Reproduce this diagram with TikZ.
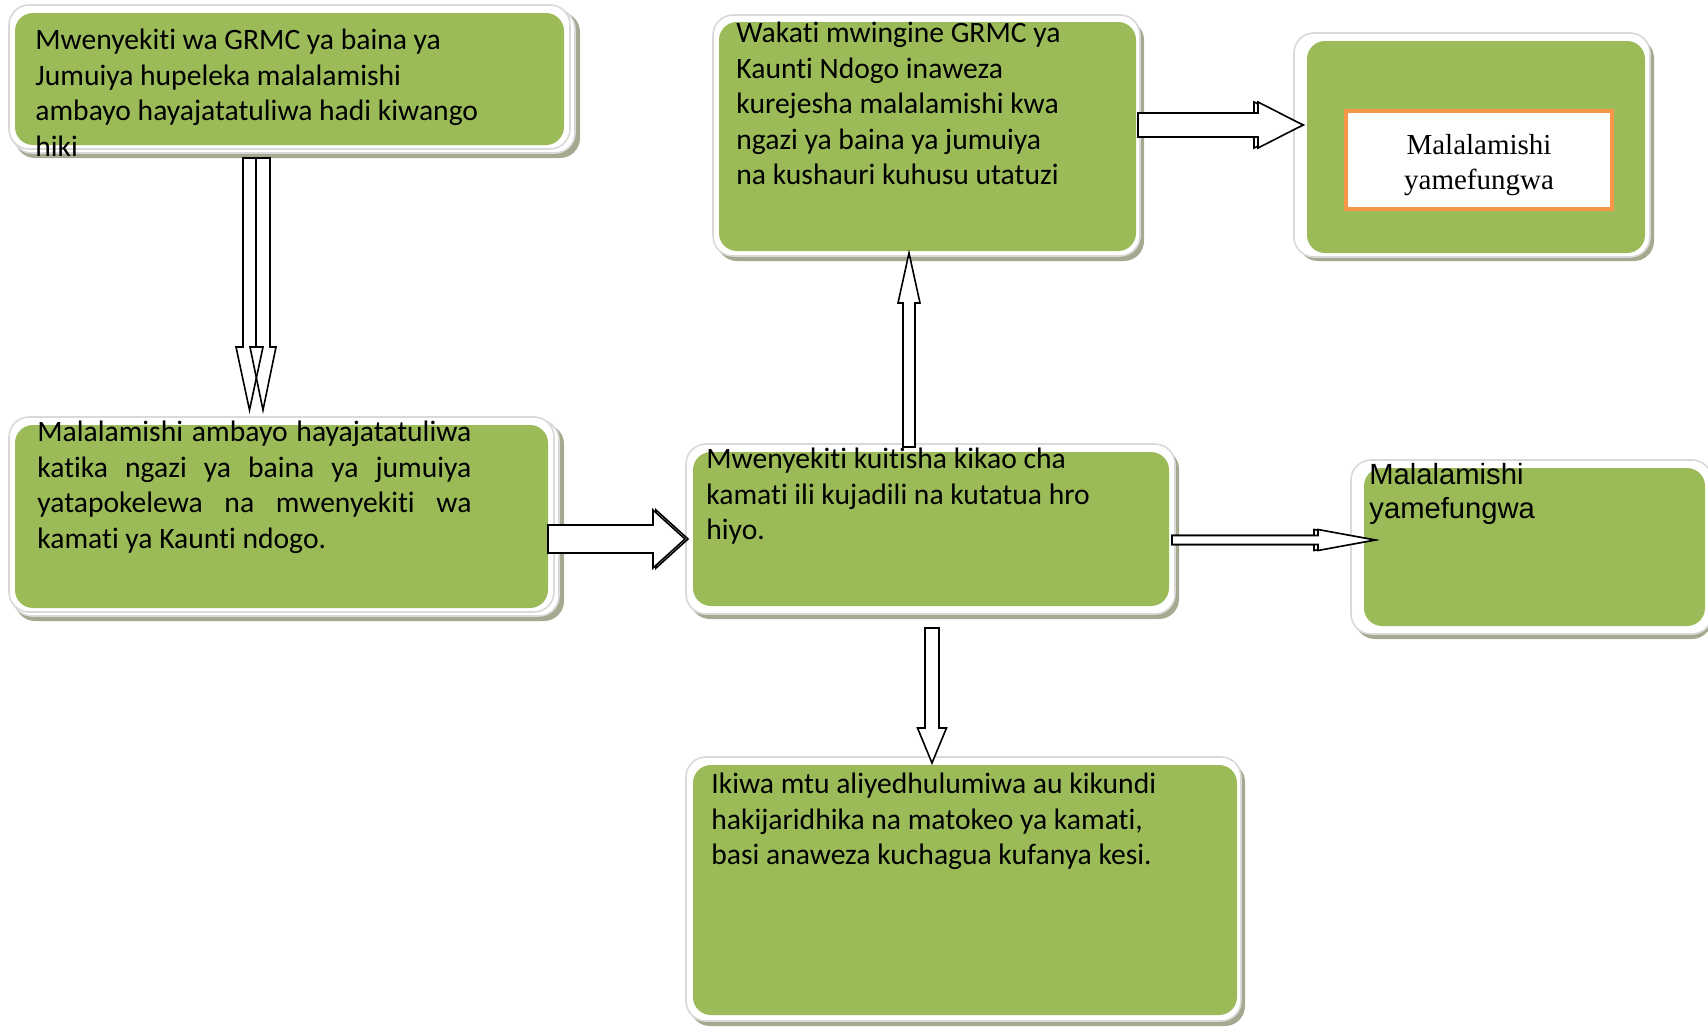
\documentclass[tikz,border=0pt]{standalone}
\usepackage{fontspec}
\setmainfont{Carlito}[RawFeature={-liga;-clig;-calt;-dlig}]
\newfontfamily\arialfont{Liberation Sans}
\newfontfamily\timesfont{Liberation Serif}
\usepackage{tikz}
\usetikzlibrary{calc, fit}

\definecolor{cardgreen}{HTML}{9BBB59}
\definecolor{framegray}{HTML}{D9D9D9}
\definecolor{shadowgray}{HTML}{A4A98F}
\definecolor{closedorange}{HTML}{F79646}

% hollow block arrow: [style]{from}{to}{shaft half}{head half}{head length}
\newcommand{\blockarrow}[6][]{%
  \path ($(#3)!#6!(#2)$) coordinate (hb);
  \draw[hollow, #1] ($(#2)!#4!90:(#3)$) -- ($(hb)!#4!90:(#3)$)
    -- ($(hb)!#5!90:(#3)$) -- (#3) -- ($(hb)!#5!-90:(#3)$)
    -- ($(hb)!#4!-90:(#3)$) -- ($(#2)!#4!-90:(#3)$) -- cycle;
}

\begin{document}
\begin{tikzpicture}[x=0.5pt, y=-0.5pt,
    frame/.style={draw=framegray, line width=0.8pt, fill=white, rounded corners=10pt, inner sep=0},
    shade/.style={fill=shadowgray, rounded corners=10pt, inner sep=0},
    card/.style={fill=cardgreen, rounded corners=9pt, inner sep=0},
    txt/.style={anchor=north west, inner sep=0, align=left,
                font=\fontsize{14.8}{17.7}\selectfont},
    hollow/.style={draw=black, line width=0.8pt, fill=white, line join=miter}
    ]
    \useasboundingbox (0,0) rectangle (1708,1028);

    % top left: chairman of the community level
    \node[shade, fit={(15,12) (580,158)}] (chairShade) {};
    \node[frame, fit={(12,9) (575,153)}] (chairBack) {};
    \node[frame, fit={(9,5) (570,149)}] (chairFrame) {};
    \node[card, fit={(15,13) (564,145)}] (chair) {};
    \node[txt] (chairText) at (35,29)
        {Mwenyekiti wa GRMC ya baina ya\\Jumuiya hupeleka malalamishi\\ambayo hayajatatuliwa hadi kiwango\\hiki};

    % middle left: received by sub-county committee
    \node[shade, fit={(15,424) (564,621)}] (receiveShade) {};
    \node[frame, fit={(12,420) (559,616)}] (receiveBack) {};
    \node[frame, fit={(9,417) (554,612)}] (receiveFrame) {};
    \node[card, fit={(15,425) (548,608)}] (receive) {};
    \node[txt, text width=217pt, align=justify] (receiveText) at (37,421)
        {Malalamishi ambayo hayajatatuliwa\linebreak katika ngazi ya baina ya jumuiya\linebreak yatapokelewa na mwenyekiti wa\linebreak kamati ya Kaunti ndogo.};

    % centre: committee meeting
    \node[shade, fit={(690,449) (1179,619)}] (meetShade) {};
    \node[frame, fit={(686,444) (1175,614)}] (meetFrame) {};
    \node[card, fit={(693,452) (1169,606)}] (meet) {};
    \node[txt] (meetText) at (706,448)
        {Mwenyekiti kuitisha kikao cha\\kamati ili kujadili na kutatua hro\\hiyo.};

    % top middle: referred back
    \node[shade, fit={(717,20) (1144,261)}] (returnShade) {};
    \node[frame, fit={(713,15) (1140,256)}] (returnFrame) {};
    \node[card, fit={(719,22) (1136,251)}] (return) {};
    \node[txt] (returnText) at (736,22)
        {Wakati mwingine GRMC ya\\Kaunti Ndogo inaweza\\kurejesha malalamishi kwa\\ngazi ya baina ya jumuiya\\na kushauri kuhusu utatuzi};

    % top right: closed
    \node[shade, fit={(1298,38) (1654,261)}] (closedTopShade) {};
    \node[frame, fit={(1294,33) (1650,257)}] (closedTopFrame) {};
    \node[card, fit={(1307,41) (1645,253)}] (closedTop) {};
    \node[draw=closedorange, line width=2pt, fill=white, minimum width=133pt,
          minimum height=49pt, inner sep=0] (closedTopLabel) at (1479,160) {};
    \node[align=center, inner sep=0, font=\timesfont\fontsize{14.5}{17.5}\selectfont]
        (closedTopText) at (1479,165) {Malalamishi\\yamefungwa};

    % right: closed
    \node[shade, fit={(1355,465) (1712,639)}] (closedRightShade) {};
    \node[frame, fit={(1351,460) (1712,634)}] (closedRightFrame) {};
    \node[card, fit={(1364,468) (1705,626)}] (closedRight) {};
    \node[txt, font=\arialfont\fontsize{14.6}{17}\selectfont] (closedRightText) at (1369,463)
        {Malalamishi\\yamefungwa};

    % bottom: going to court
    \node[shade, fit={(690,762) (1245,1026)}] (caseShade) {};
    \node[frame, fit={(686,757) (1241,1021)}] (caseFrame) {};
    \node[card, fit={(693,765) (1237,1015)}] (case) {};
    \node[txt] (caseText) at (711,773)
        {Ikiwa mtu aliyedhulumiwa au kikundi\\hakijaridhika na matokeo ya kamati,\\basi anaweza kuchagua kufanya kesi.};

    % arrow ends
    \coordinate (downA0) at (249.5,158);  \coordinate (downA1) at (249.5,410);
    \coordinate (downB0) at (263,158);    \coordinate (downB1) at (263,410);
    \coordinate (toMeet0) at (551,539);   \coordinate (toMeet1) at (688,539);
    \coordinate (toMeet2) at (548,539);   \coordinate (toMeet3) at (685,539);
    \coordinate (up0) at (909,447);       \coordinate (up1) at (909,253);
    \coordinate (toTop0) at (1138,125);   \coordinate (toTop1) at (1303,125);
    \coordinate (toRight0) at (1172,540); \coordinate (toRight1) at (1375,540);
    \coordinate (down0) at (932,628);     \coordinate (down1) at (932,763);

    \blockarrow[fill=none]{downA0}{downA1}{3.25pt}{6.75pt}{31.5pt}
    \blockarrow[fill=none]{downB0}{downB1}{3.5pt}{6.5pt}{31.5pt}
    \blockarrow{toMeet0}{toMeet1}{7pt}{14.5pt}{16pt}
    \blockarrow{toMeet2}{toMeet3}{7pt}{14.5pt}{16pt}
    \blockarrow{up0}{up1}{3pt}{5.5pt}{25pt}
    \blockarrow{toTop0}{toTop1}{6pt}{11.5pt}{24.5pt}
    \blockarrow{toTop0}{toTop1}{6pt}{11.5pt}{22.5pt}
    \blockarrow{toRight0}{toRight1}{2.25pt}{5.25pt}{30.5pt}
    \blockarrow{toRight0}{toRight1}{2.25pt}{5.25pt}{28.5pt}
    \blockarrow{down0}{down1}{3.5pt}{7.25pt}{17.5pt}
\end{tikzpicture}
\end{document}
